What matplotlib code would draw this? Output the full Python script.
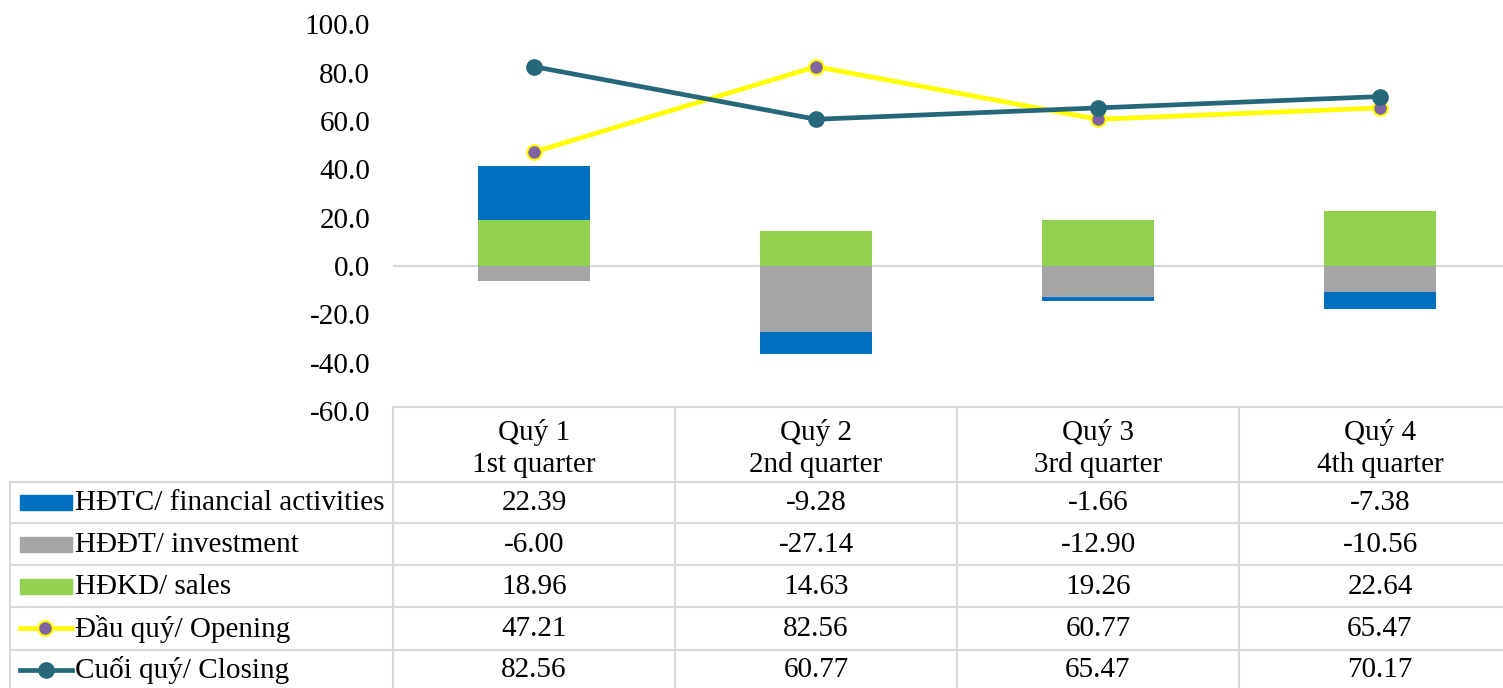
import numpy as np
import matplotlib.pyplot as plt
from matplotlib.lines import Line2D
from matplotlib.patches import Rectangle

plt.rcParams['font.family'] = ['Liberation Serif', 'DejaVu Serif']

#%% Datos
quy = ["Quý 1", "Quý 2", "Quý 3", "Quý 4"]
quarter = ["1st quarter", "2nd quarter", "3rd quarter", "4th quarter"]

hdtc = [22.39, -9.28, -1.66, -7.38]
hddt = [-6.00, -27.14, -12.90, -10.56]
hdkd = [18.96, 14.63, 19.26, 22.64]
dau_quy = [47.21, 82.56, 60.77, 65.47]
cuoi_quy = [82.56, 60.77, 65.47, 70.17]

ten = ["HĐTC/ financial activities", "HĐĐT/ investment", "HĐKD/ sales",
       "Đầu quý/ Opening", "Cuối quý/ Closing"]

c_blue = "#0070C0"
c_gray = "#A5A5A5"
c_green = "#92D050"
c_yellow = "#FFFF00"
c_purple = "#8064A2"
c_teal = "#26687A"
c_grid = "#D9D9D9"

W, H = 1503, 688


def fx(x):
    return x / W


def fy(y):
    return 1 - y / H


#%% Grafico
fig = plt.figure(figsize=(W / 100, H / 100), dpi=100)

col_w = 282
x0 = 393
ax = fig.add_axes([fx(x0), fy(411), 4 * col_w / W, (411 - 24.5) / H])

x = np.arange(4)
bw = 0.40

# Excel apila positivos y negativos por separado
pos = np.zeros(4)
neg = np.zeros(4)
for serie, color in [(hdkd, c_green), (hddt, c_gray), (hdtc, c_blue)]:
    v = np.array(serie)
    base = np.where(v >= 0, pos, neg)
    ax.bar(x, v, bw, bottom=base, color=color, zorder=2)
    pos = pos + np.where(v >= 0, v, 0)
    neg = neg + np.where(v < 0, v, 0)

ax.plot(x, dau_quy, color=c_yellow, lw=3.4, marker="o", ms=10.5,
        mfc=c_purple, mec=c_yellow, mew=1.5, zorder=3)
ax.plot(x, cuoi_quy, color=c_teal, lw=3.4, marker="o", ms=11,
        mfc=c_teal, mec=c_teal, zorder=4)

ax.axhline(0, color=c_grid, lw=1.5, zorder=1)
ax.set_xlim(-0.5, 3.5)
ax.set_ylim(-60, 100)
ax.set_yticks(np.arange(-60, 101, 20))
ax.set_yticklabels(["{:.1f}".format(v) for v in np.arange(-60, 101, 20)])
ax.tick_params(axis="y", length=0, labelsize=21, pad=16.5)
ax.set_xticks([])
for s in ax.spines.values():
    s.set_visible(False)

#%% Tabla
lw = 1.5
lineas_h = [482, 523, 565, 607, 650]
fig.add_artist(Line2D([fx(x0), 1], [fy(407), fy(407)], color=c_grid, lw=lw))
for y in lineas_h:
    fig.add_artist(Line2D([fx(10), 1], [fy(y), fy(y)], color=c_grid, lw=lw))
fig.add_artist(Line2D([fx(10), fx(10)], [fy(482), 0], color=c_grid, lw=lw))
for i in range(4):
    xc = x0 + i * col_w
    fig.add_artist(Line2D([fx(xc), fx(xc)], [fy(407), 0], color=c_grid, lw=lw))

fs = 21
for i in range(4):
    xc = x0 + (i + 0.5) * col_w
    fig.text(fx(xc), fy(432), quy[i], ha="center", va="center", fontsize=fs)
    fig.text(fx(xc), fy(465), quarter[i], ha="center", va="center", fontsize=fs)

filas = [hdtc, hddt, hdkd, dau_quy, cuoi_quy]
centros = [503, 545, 587, 629, 670]
for fila, yc in zip(filas, centros):
    for i in range(4):
        xc = x0 + (i + 0.5) * col_w
        fig.text(fx(xc), fy(yc), "{:.2f}".format(fila[i]), ha="center",
                 va="center", fontsize=fs)

# claves de la leyenda
for j, color in enumerate([c_blue, c_gray, c_green]):
    yc = centros[j]
    fig.add_artist(Rectangle((fx(20), fy(yc + 7)), fx(52), 15 / H,
                             color=color))
fig.add_artist(Line2D([fx(20), fx(72)], [fy(628), fy(628)], color=c_yellow,
                      lw=3.4))
fig.add_artist(Line2D([fx(45)], [fy(628)], marker="o", ms=10.5, mfc=c_purple,
                      mec=c_yellow, mew=1.5))
fig.add_artist(Line2D([fx(20), fx(72)], [fy(670), fy(670)], color=c_teal,
                      lw=3.4))
fig.add_artist(Line2D([fx(46)], [fy(670)], marker="o", ms=11, color=c_teal))

for nombre, yc in zip(ten, centros):
    fig.text(fx(75), fy(yc), nombre, ha="left", va="center", fontsize=fs)

plt.savefig("out.png", dpi=100)
